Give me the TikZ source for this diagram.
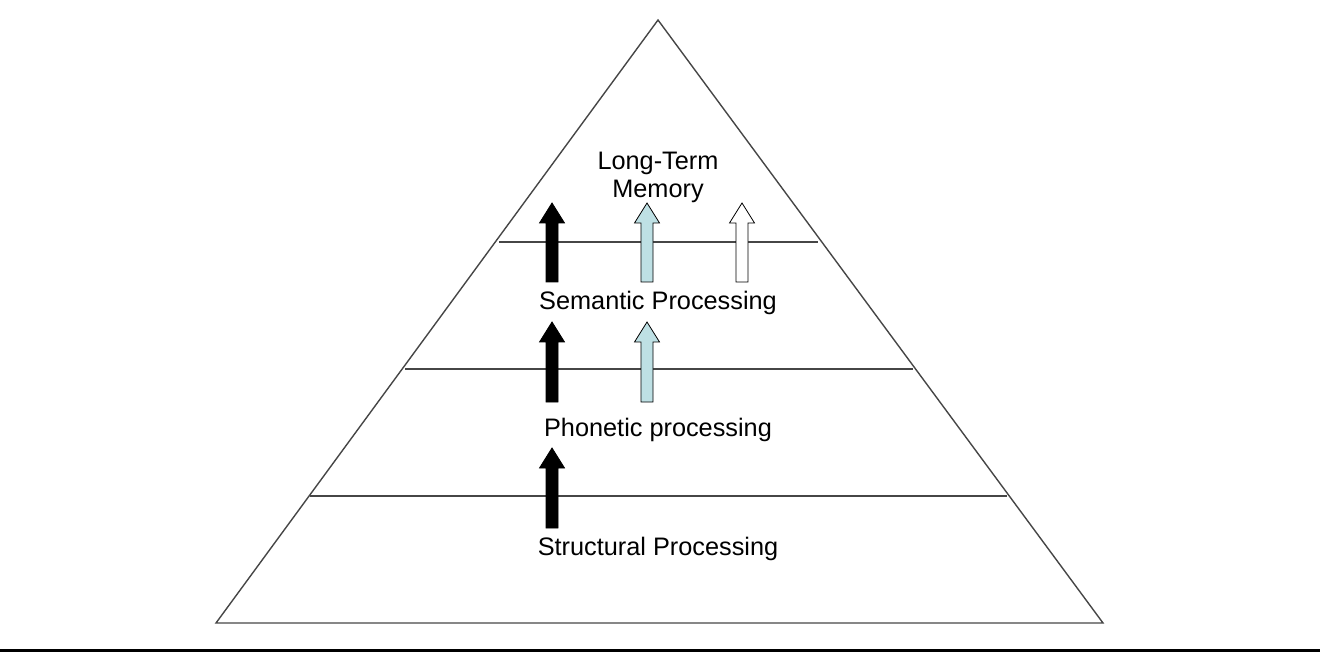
\documentclass[tikz,border=0pt]{standalone}
\usepackage{fontspec}
\setmainfont{Liberation Sans}
\usepackage{xcolor}
\definecolor{paleblue}{RGB}{190,224,228}
\definecolor{edgegray}{RGB}{70,70,70}

\begin{document}
\begin{tikzpicture}[x=1pt, y=-1pt,
        level/.style={draw=edgegray, line width=1.6pt},
        label/.style={font=\fontsize{25.3}{28}\selectfont, align=center, inner sep=0pt},
        blockarrow/.style={draw=black, line width=0.8pt}
    ]
        \useasboundingbox (0,0) rectangle (1320,652);
        % pyramid
        \coordinate (apex) at (658,20);
        \coordinate (bl) at (216,623);
        \coordinate (br) at (1103,623);
        \draw[draw=edgegray, line width=1.4pt, line join=miter] (bl) -- (apex) -- (br) -- cycle;
        % level lines
        \draw[level] (499,242) -- (818,242);
        \draw[level] (405,369) -- (913,369);
        \draw[level] (310,496) -- (1007,496);
        % labels
        \node[label] (ltm) at (658,177) {Long-Term\\Memory};
        \node[label] (sem) at (658,303) {Semantic Processing};
        \node[label] (phon) at (658,430) {Phonetic processing};
        \node[label] (struct) at (658,549) {Structural Processing};
        % block arrows: x, tip, bottom, fill
        \foreach \x/\t/\b/\c in {552/203/282/black, 647/203/282/paleblue, 742/203/282/white,
                                 552/322/402/black, 647/322/402/paleblue,
                                 552/448/528/black}
            \draw[blockarrow, fill=\c] (\x-6,\b) -- (\x-6,\t+20) -- (\x-12.5,\t+20) -- (\x,\t)
                -- (\x+12.5,\t+20) -- (\x+6,\t+20) -- (\x+6,\b) -- cycle;
        % bottom rule
        \fill[black] (0,649) rectangle (1320,652);
    \end{tikzpicture}
\end{document}
